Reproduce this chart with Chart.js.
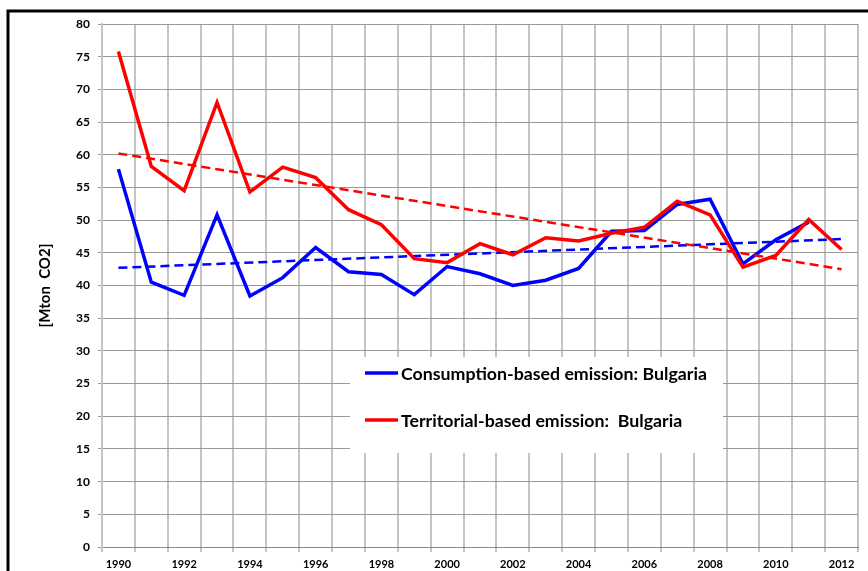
<!DOCTYPE html>
<html>
<head>
<meta charset="utf-8">
<script src="https://cdn.jsdelivr.net/npm/chart.js@4"></script>
<style>
  html, body { margin: 0; padding: 0; background: #ffffff; }
  #wrap { width: 868px; height: 571px; position: relative; overflow: hidden; }
</style>
</head>
<body>
<div id="wrap"><canvas id="c" width="868" height="571"></canvas></div>
<script>
const years = ['1990','1991','1992','1993','1994','1995','1996','1997','1998','1999','2000','2001','2002','2003','2004','2005','2006','2007','2008','2009','2010','2011','2012'];
const consumption = [57.8,40.5,38.5,50.8,38.4,41.2,45.8,42.1,41.7,38.6,42.9,41.8,40.0,40.8,42.6,48.3,48.4,52.4,53.2,43.3,47.0,49.7,null];
const territorial = [75.8,58.2,54.5,68.0,54.3,58.1,56.5,51.6,49.3,44.1,43.5,46.4,44.7,47.3,46.8,48.0,48.9,52.9,50.8,42.8,44.6,50.1,45.5];
const consumptionTrend = [42.7,null,null,null,null,null,null,null,null,null,null,null,null,null,null,null,null,null,null,null,null,null,47.1];
const territorialTrend = [60.2,null,null,null,null,null,null,null,null,null,null,null,null,null,null,null,null,null,null,null,null,null,42.5];
const legendLabels = ['Consumption-based emission: Bulgaria', 'Territorial-based emission:  Bulgaria'];
const yTitle = '[Mton  CO2]';

const BLUE = '#0000ff';
const RED = '#ff0000';

const decor = {
  id: 'decor',
  afterDatasetsDraw(chart) {
    const ctx = chart.ctx;
    ctx.save();
    ctx.fillStyle = '#ffffff';
    ctx.fillRect(350, 357, 373, 96);
    let size = 15;
    ctx.font = 'bold ' + size + 'px Lato';
    const w = ctx.measureText(legendLabels[0]).width;
    size = size * 306 / w;
    ctx.font = 'bold ' + size.toFixed(2) + 'px Lato';
    ctx.textBaseline = 'middle';
    ctx.textAlign = 'left';
    const rows = [[373, BLUE, legendLabels[0]], [420, RED, legendLabels[1]]];
    rows.forEach(r => {
      ctx.strokeStyle = r[1];
      ctx.lineWidth = 3.5;
      ctx.beginPath();
      ctx.moveTo(365, r[0]);
      ctx.lineTo(398, r[0]);
      ctx.stroke();
      ctx.fillStyle = '#000000';
      ctx.fillText(r[2], 401, r[0] + 1);
    });
    ctx.restore();
  },
  afterDraw(chart) {
    const ctx = chart.ctx;
    ctx.save();
    ctx.strokeStyle = '#000000';
    ctx.lineWidth = 3;
    ctx.strokeRect(8, 11, 2000, 2000);
    ctx.restore();
  }
};

new Chart(document.getElementById('c'), {
  type: 'line',
  data: {
    labels: years,
    datasets: [
      { label: legendLabels[0], data: consumption, borderColor: BLUE, backgroundColor: BLUE, borderWidth: 3.5, pointRadius: 0, tension: 0, order: 4 },
      { label: legendLabels[1], data: territorial, borderColor: RED, backgroundColor: RED, borderWidth: 3.5, pointRadius: 0, tension: 0, order: 1 },
      { label: 'trend consumption', data: consumptionTrend, borderColor: BLUE, borderWidth: 2.5, borderDash: [9, 5], pointRadius: 0, spanGaps: true, order: 3 },
      { label: 'trend territorial', data: territorialTrend, borderColor: RED, borderWidth: 2.5, borderDash: [9, 5], pointRadius: 0, spanGaps: true, order: 2 }
    ]
  },
  options: {
    responsive: false,
    animation: false,
    devicePixelRatio: 1,
    layout: { padding: { top: 24, right: 10, bottom: 0, left: 0 } },
    plugins: { legend: { display: false }, tooltip: { enabled: false }, title: { display: false } },
    scales: {
      x: {
        offset: true,
        afterFit(s) { s.height = 24; },
        grid: { offset: true, color: '#c4c4c4', lineWidth: 2, tickLength: 5, drawTicks: true },
        border: { color: '#8a8a8a', width: 1 },
        ticks: {
          autoSkip: false, maxRotation: 0, minRotation: 0, padding: 6,
          color: '#000000', font: { family: 'Lato', weight: 'bold', size: 11 },
          callback(v, i) { return i % 2 === 0 ? years[i] : ''; }
        }
      },
      y: {
        min: 0, max: 80,
        afterFit(s) { s.width = 102; },
        grid: { color: '#999999', lineWidth: 1, tickLength: 4 },
        border: { color: '#c4c4c4', width: 2 },
        ticks: { stepSize: 5, padding: 8, color: '#000000', font: { family: 'Lato', weight: 'bold', size: 12 } },
        title: { display: true, text: yTitle, color: '#000000', font: { family: 'Lato', weight: 'bold', size: 15 }, padding: { top: 36, bottom: 0 } }
      }
    }
  },
  plugins: [decor]
});
</script>
</body>
</html>
